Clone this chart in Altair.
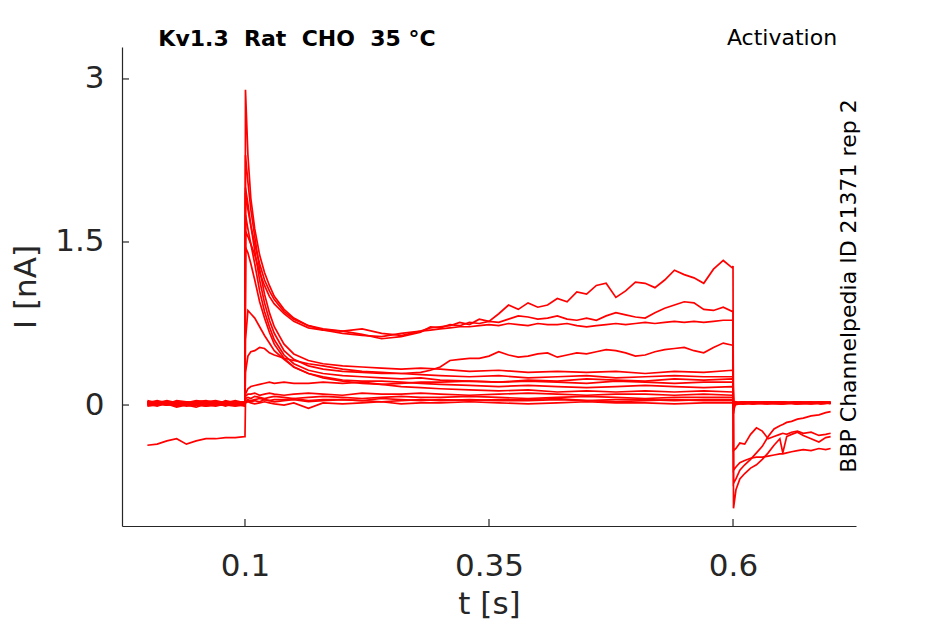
import altair as alt
import pandas as pd

# ---------------- time grids (s) ----------------
PRE_T = [0.0, 0.01, 0.02, 0.03, 0.04, 0.05, 0.06, 0.07, 0.08, 0.09, 0.0995]
EARLY_T = [0.1, 0.1005, 0.103, 0.106, 0.11, 0.115, 0.12, 0.125, 0.13, 0.14, 0.15,
           0.165, 0.18, 0.2, 0.22, 0.24, 0.26, 0.28]
LATE_T_FINE = [0.29, 0.30, 0.31, 0.32, 0.33, 0.34, 0.35, 0.36, 0.37, 0.38, 0.39, 0.40,
               0.41, 0.42, 0.43, 0.44, 0.45, 0.46, 0.47, 0.48, 0.49, 0.50, 0.51, 0.52,
               0.53, 0.54, 0.55, 0.56, 0.57, 0.58, 0.59, 0.5995]
LATE_T = [0.3, 0.33, 0.36, 0.39, 0.42, 0.45, 0.48, 0.51, 0.54, 0.57, 0.5995]
POST_T_TAIL = [0.6, 0.6005, 0.603, 0.607, 0.612, 0.618, 0.624, 0.63, 0.636, 0.642,
               0.648, 0.651, 0.655, 0.66, 0.666, 0.672, 0.68, 0.688, 0.695, 0.7]
POST_T_FLAT = [0.6, 0.6005, 0.602, 0.61, 0.62, 0.635, 0.65, 0.665, 0.68, 0.69, 0.7]

# ---------------- currents (nA) ----------------
TR1_PRE = [0.02, 0.01, 0.03, 0.0, 0.02, 0.01, 0.03, 0.02, 0.01, 0.02, 0.02]
TR1_EARLY = [0.02, 2.9, 2.3, 1.9, 1.62, 1.38, 1.22, 1.1, 1.0, 0.88, 0.8, 0.73, 0.69, 0.66, 0.64, 0.63, 0.66, 0.68]
TR1_LATE = [0.71, 0.72, 0.73, 0.76, 0.74, 0.79, 0.77, 0.84, 0.92, 0.88, 0.94, 0.90, 0.92, 0.98, 0.95, 1.04,
            1.02, 1.10, 1.12, 0.99, 1.05, 1.13, 1.12, 1.08, 1.15, 1.24, 1.20, 1.17, 1.12, 1.25, 1.33, 1.26]
TR1_POST = [1.28, -0.95, -0.78, -0.68, -0.63, -0.58, -0.55, -0.5, -0.44, -0.37, -0.31, -0.44, -0.29, -0.27,
            -0.25, -0.28, -0.31, -0.34, -0.3, -0.29]

TR2_PRE = [0.03, 0.02, 0.0, 0.02, 0.01, 0.03, 0.01, 0.0, 0.02, 0.03, 0.01]
TR2_EARLY = [0.02, 1.95, 1.8, 1.65, 1.48, 1.3, 1.15, 1.05, 0.97, 0.86, 0.79, 0.73, 0.7, 0.68, 0.65, 0.61, 0.63, 0.67]
TR2_LATE = [0.72, 0.71, 0.74, 0.73, 0.76, 0.75, 0.77, 0.76, 0.79, 0.82, 0.81, 0.79, 0.80, 0.82, 0.79, 0.78,
            0.80, 0.78, 0.82, 0.85, 0.83, 0.81, 0.80, 0.85, 0.89, 0.92, 0.95, 0.94, 0.88, 0.87, 0.90, 0.86]
TR2_POST = [0.87, -0.42, -0.4, -0.35, -0.36, -0.27, -0.21, -0.24, -0.31, -0.29, -0.27, -0.26, -0.27, -0.25,
            -0.24, -0.26, -0.25, -0.28, -0.27, -0.26]

TR3_PRE = [0.0, 0.02, 0.01, -0.01, 0.01, 0.02, 0.0, 0.01, 0.03, 0.01, 0.0]
TR3_EARLY = [0.01, 1.6, 1.55, 1.48, 1.38, 1.22, 1.1, 1.0, 0.93, 0.84, 0.77, 0.71, 0.69, 0.68, 0.7, 0.66, 0.64, 0.68]
TR3_LATE = [0.69, 0.70, 0.71, 0.72, 0.72, 0.73, 0.74, 0.73, 0.75, 0.74, 0.73, 0.75, 0.74, 0.74, 0.75, 0.73,
            0.72, 0.73, 0.74, 0.75, 0.74, 0.75, 0.76, 0.75, 0.76, 0.77, 0.76, 0.77, 0.76, 0.77, 0.78, 0.78]
TR3_POST = [0.78, -0.6, -0.57, -0.53, -0.51, -0.49, -0.48, -0.48, -0.47, -0.46, -0.45, -0.45, -0.44, -0.43,
            -0.42, -0.41, -0.42, -0.4, -0.41, -0.4]

TR4_PRE = [0.01, 0.03, 0.02, 0.01, -0.01, 0.0, 0.02, 0.03, 0.0, 0.01, 0.02]
TR4_EARLY = [0.02, 0.3, 0.45, 0.49, 0.5, 0.53, 0.52, 0.48, 0.46, 0.43, 0.41, 0.38, 0.36, 0.33, 0.31, 0.3, 0.29, 0.3]
TR4_LATE = [0.32, 0.35, 0.41, 0.42, 0.43, 0.43, 0.45, 0.49, 0.46, 0.44, 0.45, 0.47, 0.48, 0.44, 0.46, 0.48,
            0.47, 0.49, 0.51, 0.50, 0.48, 0.45, 0.46, 0.49, 0.51, 0.52, 0.53, 0.50, 0.48, 0.53, 0.57, 0.55]
TR4_POST = [0.55, -0.72, -0.68, -0.6, -0.55, -0.5, -0.44, -0.38, -0.29, -0.22, -0.19, -0.18, -0.16, -0.15,
            -0.13, -0.12, -0.1, -0.09, -0.07, -0.06]

TR5_PRE = [0.04, 0.02, 0.03, 0.02, 0.01, 0.03, 0.04, 0.02, 0.03, 0.02, 0.03]
TR5_EARLY = [0.03, 2.3, 2.05, 1.8, 1.55, 1.25, 1.02, 0.85, 0.72, 0.56, 0.47, 0.41, 0.38, 0.36, 0.35, 0.34, 0.33, 0.34]
TR5_LATE = [0.33, 0.31, 0.32, 0.3, 0.31, 0.3, 0.31, 0.29, 0.31, 0.3, 0.32]
TR5_POST = [0.32, -0.08, 0.01, 0.02, 0.03, 0.02, 0.01, 0.03, 0.02, 0.02, 0.02]

TR6_PRE = [-0.01, 0.0, 0.01, -0.02, 0.0, 0.01, -0.01, 0.0, 0.0, 0.01, -0.01]
TR6_EARLY = [-0.01, 2.0, 1.85, 1.65, 1.42, 1.15, 0.94, 0.78, 0.66, 0.5, 0.42, 0.36, 0.33, 0.31, 0.3, 0.29, 0.29, 0.28]
TR6_LATE = [0.27, 0.26, 0.27, 0.25, 0.26, 0.27, 0.25, 0.26, 0.27, 0.26, 0.26]
TR6_POST = [0.26, -0.05, 0.0, 0.02, 0.01, 0.02, 0.03, 0.01, 0.02, 0.03, 0.02]

TR7_PRE = [0.02, 0.04, 0.02, 0.03, 0.02, 0.0, 0.01, 0.03, 0.02, 0.04, 0.02]
TR7_EARLY = [0.02, 1.75, 1.62, 1.48, 1.3, 1.05, 0.86, 0.72, 0.6, 0.46, 0.38, 0.32, 0.29, 0.27, 0.26, 0.25, 0.24, 0.25]
TR7_LATE = [0.23, 0.22, 0.21, 0.22, 0.21, 0.2, 0.22, 0.21, 0.2, 0.21, 0.21]
TR7_POST = [0.21, -0.04, 0.02, 0.01, 0.02, 0.03, 0.02, 0.02, 0.01, 0.02, 0.03]

TR8_PRE = [0.01, 0.0, 0.02, 0.01, 0.03, 0.02, 0.0, -0.01, 0.01, 0.0, 0.01]
TR8_EARLY = [0.01, 1.45, 1.4, 1.3, 1.15, 0.95, 0.8, 0.67, 0.56, 0.43, 0.35, 0.29, 0.26, 0.23, 0.22, 0.22, 0.21, 0.2]
TR8_LATE = [0.19, 0.18, 0.17, 0.18, 0.17, 0.16, 0.17, 0.18, 0.17, 0.16, 0.17]
TR8_POST = [0.17, -0.03, 0.01, 0.03, 0.02, 0.01, 0.02, 0.03, 0.02, 0.01, 0.02]

TR9_PRE = [0.03, 0.01, 0.0, 0.02, 0.02, 0.04, 0.03, 0.01, 0.02, 0.03, 0.03]
TR9_EARLY = [0.03, 0.6, 0.87, 0.84, 0.8, 0.72, 0.64, 0.57, 0.5, 0.42, 0.35, 0.29, 0.25, 0.22, 0.2, 0.19, 0.17, 0.16]
TR9_LATE = [0.15, 0.14, 0.13, 0.14, 0.12, 0.13, 0.12, 0.13, 0.12, 0.13, 0.12]
TR9_POST = [0.12, -0.02, 0.02, 0.01, 0.02, 0.02, 0.03, 0.02, 0.01, 0.02, 0.02]

TR10_PRE = [0.0, 0.01, 0.03, 0.01, 0.0, -0.02, 0.01, 0.02, 0.0, -0.01, 0.0]
TR10_EARLY = [0.0, 0.1, 0.15, 0.17, 0.18, 0.19, 0.2, 0.21, 0.2, 0.21, 0.2, 0.2, 0.21, 0.2, 0.21, 0.19, 0.2, 0.21]
TR10_LATE = [0.21, 0.22, 0.21, 0.23, 0.22, 0.24, 0.23, 0.22, 0.24, 0.23, 0.24]
TR10_POST = [0.24, -0.03, 0.01, 0.02, 0.01, 0.03, 0.02, 0.01, 0.02, 0.03, 0.01]

TR11_PRE = [0.02, 0.03, 0.01, 0.04, 0.03, 0.02, 0.02, 0.0, 0.04, 0.02, 0.03]
TR11_EARLY = [0.03, 0.08, 0.1, 0.1, 0.11, 0.09, 0.1, 0.11, 0.1, 0.09, 0.1, 0.11, 0.1, 0.09, 0.11, 0.1, 0.1, 0.11]
TR11_LATE = [0.1, 0.09, 0.1, 0.11, 0.1, 0.09, 0.1, 0.1, 0.09, 0.1, 0.09]
TR11_POST = [0.09, 0.0, 0.02, 0.03, 0.02, 0.01, 0.02, 0.03, 0.02, 0.02, 0.03]

TR12_PRE = [0.01, -0.01, 0.02, 0.0, 0.01, 0.03, 0.01, 0.02, -0.01, 0.02, 0.01]
TR12_EARLY = [0.01, 0.06, 0.07, 0.06, 0.08, 0.07, 0.06, 0.07, 0.08, 0.07, 0.06, 0.07, 0.08, 0.07, 0.06, 0.07, 0.08, 0.07]
TR12_LATE = [0.07, 0.08, 0.07, 0.06, 0.07, 0.08, 0.07, 0.06, 0.07, 0.07, 0.07]
TR12_POST = [0.07, 0.01, 0.03, 0.02, 0.03, 0.02, 0.01, 0.02, 0.03, 0.02, 0.02]

TR13_PRE = [0.03, 0.02, 0.04, 0.02, 0.0, 0.01, 0.03, 0.04, 0.02, 0.0, 0.02]
TR13_EARLY = [0.02, 0.04, 0.05, 0.04, 0.05, 0.06, 0.05, 0.04, 0.05, 0.05, 0.06, 0.04, 0.05, 0.05, 0.04, 0.06, 0.05, 0.04]
TR13_LATE = [0.05, 0.04, 0.05, 0.05, 0.06, 0.04, 0.05, 0.05, 0.04, 0.05, 0.05]
TR13_POST = [0.05, 0.01, 0.02, 0.01, 0.02, 0.03, 0.02, 0.02, 0.03, 0.01, 0.02]

TR14_PRE = [0.0, 0.02, 0.0, 0.03, 0.02, 0.0, -0.01, 0.01, 0.03, 0.02, 0.0]
TR14_EARLY = [0.0, 0.02, 0.03, 0.02, 0.01, 0.02, 0.03, 0.02, 0.01, 0.0, 0.02, -0.03, 0.02, 0.01, 0.02, 0.03, 0.01, 0.02]
TR14_LATE = [0.02, 0.03, 0.02, 0.01, 0.02, 0.03, 0.02, 0.02, 0.01, 0.02, 0.02]
TR14_POST = [0.02, 0.01, 0.02, 0.03, 0.01, 0.02, 0.03, 0.01, 0.02, 0.03, 0.02]

TR15_PRE = [-0.37, -0.36, -0.33, -0.31, -0.36, -0.33, -0.31, -0.31, -0.30, -0.30, -0.29]
TR15_EARLY = [-0.29, 0.03, 0.04, 0.03, 0.04, 0.03, 0.05, 0.04, 0.03, 0.04, 0.05, 0.03, 0.04, 0.05, 0.04, 0.03, 0.04, 0.05]
TR15_LATE = [0.04, 0.05, 0.04, 0.04, 0.05, 0.04, 0.03, 0.04, 0.05, 0.04, 0.04]
TR15_POST = [0.04, 0.0, 0.01, 0.02, 0.03, 0.02, 0.01, 0.02, 0.02, 0.03, 0.02]

X_TICKS = [0.1, 0.35, 0.6]
Y_TICKS = [0, 1.5, 3]

NB = "\u00a0"
TITLE = "Kv1.3" + NB + NB + "Rat" + NB + NB + "CHO" + NB + NB + "35" + NB + "\u00b0C"
PROTOCOL = "Activation"
SIDE_NOTE = "BBP Channelpedia ID 21371 rep 2"

# ---------------- assemble long table ----------------
tail_traces = {
    "TR1": (TR1_PRE, TR1_EARLY, TR1_LATE, TR1_POST),
    "TR2": (TR2_PRE, TR2_EARLY, TR2_LATE, TR2_POST),
    "TR3": (TR3_PRE, TR3_EARLY, TR3_LATE, TR3_POST),
    "TR4": (TR4_PRE, TR4_EARLY, TR4_LATE, TR4_POST),
}
flat_traces = {
    "TR5": (TR5_PRE, TR5_EARLY, TR5_LATE, TR5_POST),
    "TR6": (TR6_PRE, TR6_EARLY, TR6_LATE, TR6_POST),
    "TR7": (TR7_PRE, TR7_EARLY, TR7_LATE, TR7_POST),
    "TR8": (TR8_PRE, TR8_EARLY, TR8_LATE, TR8_POST),
    "TR9": (TR9_PRE, TR9_EARLY, TR9_LATE, TR9_POST),
    "TR10": (TR10_PRE, TR10_EARLY, TR10_LATE, TR10_POST),
    "TR11": (TR11_PRE, TR11_EARLY, TR11_LATE, TR11_POST),
    "TR12": (TR12_PRE, TR12_EARLY, TR12_LATE, TR12_POST),
    "TR13": (TR13_PRE, TR13_EARLY, TR13_LATE, TR13_POST),
    "TR14": (TR14_PRE, TR14_EARLY, TR14_LATE, TR14_POST),
    "TR15": (TR15_PRE, TR15_EARLY, TR15_LATE, TR15_POST),
}

rows = []
for name, (pre, early, late, post) in tail_traces.items():
    for ts, vs in ((PRE_T, pre), (EARLY_T, early), (LATE_T_FINE, late), (POST_T_TAIL, post)):
        for t, v in zip(ts, vs):
            rows.append({"trace": name, "t": t, "I": v})
for name, (pre, early, late, post) in flat_traces.items():
    for ts, vs in ((PRE_T, pre), (EARLY_T, early), (LATE_T, late), (POST_T_FLAT, post)):
        for t, v in zip(ts, vs):
            rows.append({"trace": name, "t": t, "I": v})
df = pd.DataFrame(rows)

W, H = 734, 479
INK = "#262626"
FONT = "DejaVu Sans"

xscale = alt.Scale(domain=[-0.026, 0.726], nice=False, zero=False)
yscale = alt.Scale(domain=[-1.113, 3.294], nice=False, zero=False)

LABEL_EXPR = "format(datum.value, '.2~f')"

xaxis = alt.Axis(values=X_TICKS, labelExpr=LABEL_EXPR, title="t [s]", grid=False, ticks=False,
                 tickSize=0, labelPadding=25, titlePadding=8, labelFontSize=31,
                 titleFontSize=31, labelFont=FONT, titleFont=FONT,
                 titleFontWeight="normal", labelColor=INK, titleColor=INK,
                 domainColor=INK, domainWidth=1.2, labelFlush=False)
yaxis = alt.Axis(values=Y_TICKS, labelExpr=LABEL_EXPR, title="I [nA]", grid=False, ticks=False,
                 tickSize=0, labelPadding=18, titlePadding=12, labelFontSize=31,
                 titleFontSize=31, labelFont=FONT, titleFont=FONT,
                 titleFontWeight="normal", labelColor=INK, titleColor=INK,
                 domainColor=INK, domainWidth=1.2, labelFlush=False)

lines = alt.Chart(df).mark_line(color="#ff0000", strokeWidth=1.7, clip=True).encode(
    x=alt.X("t:Q", scale=xscale, axis=xaxis),
    y=alt.Y("I:Q", scale=yscale, axis=yaxis),
    detail="trace:N",
    order="t:Q",
)

xticks = alt.Chart(pd.DataFrame({"t": X_TICKS})).mark_rule(color=INK, strokeWidth=1.2).encode(
    x=alt.X("t:Q", scale=xscale, axis=xaxis),
    y=alt.value(H),
    y2=alt.value(H - 7),
)
yticks = alt.Chart(pd.DataFrame({"I": Y_TICKS})).mark_rule(color=INK, strokeWidth=1.2).encode(
    y=alt.Y("I:Q", scale=yscale, axis=yaxis),
    x=alt.value(0),
    x2=alt.value(7),
)

title_txt = alt.Chart(pd.DataFrame({"s": [TITLE]})).mark_text(
    font=FONT, fontSize=22, fontWeight="bold", color="#000000", align="center", baseline="middle"
).encode(text="s:N", x=alt.value(175), y=alt.value(-8))

proto_txt = alt.Chart(pd.DataFrame({"s": [PROTOCOL]})).mark_text(
    font=FONT, fontSize=22, color="#000000", align="center", baseline="middle"
).encode(text="s:N", x=alt.value(660), y=alt.value(-9))

side_txt = alt.Chart(pd.DataFrame({"s": [SIDE_NOTE]})).mark_text(
    font=FONT, fontSize=22, color="#000000", align="center", baseline="middle", angle=270
).encode(text="s:N", x=alt.value(727), y=alt.value(239))

chart = alt.layer(lines, xticks, yticks, title_txt, proto_txt, side_txt).properties(
    width=W, height=H,
    autosize=alt.AutoSizeParams(type="none"),
    padding={"left": 114, "top": 39, "right": 60, "bottom": 95},
).configure_view(strokeWidth=0)

chart.save("out.html", embed_options={"renderer": "svg", "actions": False})
